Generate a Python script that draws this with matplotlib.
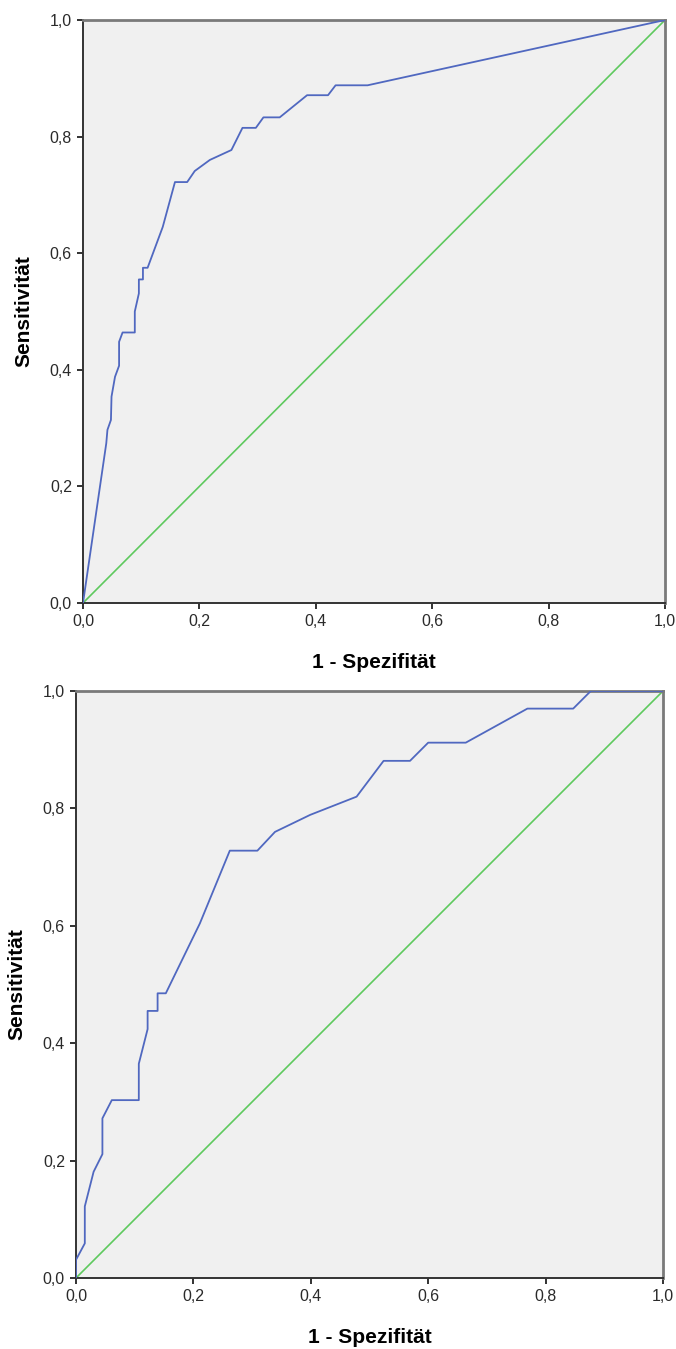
import numpy as np
import matplotlib.pyplot as plt
from matplotlib.ticker import FuncFormatter

# ROC curve, top panel (1 - specificity, sensitivity)
fpr_top = [0.0, 0.040, 0.042, 0.048, 0.049, 0.055, 0.062, 0.062, 0.068, 0.089,
           0.089, 0.096, 0.096, 0.103, 0.103, 0.111, 0.137, 0.158, 0.179, 0.192,
           0.218, 0.255, 0.274, 0.297, 0.310, 0.338, 0.385, 0.421, 0.434, 0.489, 1.0]
tpr_top = [0.0, 0.274, 0.297, 0.314, 0.354, 0.388, 0.407, 0.448, 0.464, 0.464,
           0.500, 0.531, 0.555, 0.555, 0.575, 0.575, 0.645, 0.722, 0.722, 0.741,
           0.760, 0.777, 0.815, 0.815, 0.833, 0.833, 0.871, 0.871, 0.888, 0.888, 1.0]

# ROC curve, bottom panel
fpr_bot = [0.0, 0.0, 0.015, 0.015, 0.030, 0.045, 0.045, 0.061, 0.107, 0.107,
           0.122, 0.122, 0.139, 0.139, 0.153, 0.211, 0.262, 0.309, 0.339, 0.399,
           0.478, 0.524, 0.569, 0.600, 0.664, 0.769, 0.847, 0.877, 1.0]
tpr_bot = [0.0, 0.031, 0.059, 0.122, 0.181, 0.211, 0.272, 0.303, 0.303, 0.365,
           0.424, 0.455, 0.455, 0.485, 0.485, 0.604, 0.728, 0.728, 0.760, 0.789,
           0.820, 0.881, 0.881, 0.912, 0.912, 0.970, 0.970, 1.0, 1.0]

ref_line = [0.0, 1.0]
ticks = [0.0, 0.2, 0.4, 0.6, 0.8, 1.0]

plt.rcParams['font.family'] = ['Liberation Sans', 'DejaVu Sans']

W, H = 676, 1349
fig = plt.figure(figsize=(W / 100, H / 100), dpi=100)

comma = FuncFormatter(lambda v, p: f"{v:.1f}".replace('.', ','))


def roc_panel(rect, fpr, tpr):
    left, top, right, bottom = rect
    ax = fig.add_axes([left / W, 1 - bottom / H, (right - left) / W, (bottom - top) / H])
    ax.set_facecolor('#f0f0f0')
    ax.plot(ref_line, ref_line, color='#5ec95e', lw=1.2, zorder=2)
    ax.plot(fpr, tpr, color='#5068c0', lw=1.3, zorder=3)
    ax.set_xlim(0, 1)
    ax.set_ylim(0, 1)
    ax.set_xticks(ticks)
    ax.set_yticks(ticks)
    ax.xaxis.set_major_formatter(comma)
    ax.yaxis.set_major_formatter(comma)
    ax.tick_params(direction='out', length=4.5, width=1.3, colors='#222222',
                   labelsize=11.5, labelcolor='#2a2a2a', pad=3.5)
    for s in ('left', 'bottom'):
        ax.spines[s].set_color('#333333')
        ax.spines[s].set_linewidth(1.4)
    for s in ('top', 'right'):
        ax.spines[s].set_color('#7a7a7a')
        ax.spines[s].set_linewidth(2.0)
    ax.set_xlabel('1 - Spezifität', fontsize=15, fontweight='bold', labelpad=17)
    ax.set_ylabel('Sensitivität', fontsize=15, fontweight='bold', labelpad=12)
    return ax


roc_panel((83, 20, 665, 603), fpr_top, tpr_top)
roc_panel((76, 691, 663, 1278), fpr_bot, tpr_bot)

fig.savefig('out.png', dpi=100, facecolor='white')
